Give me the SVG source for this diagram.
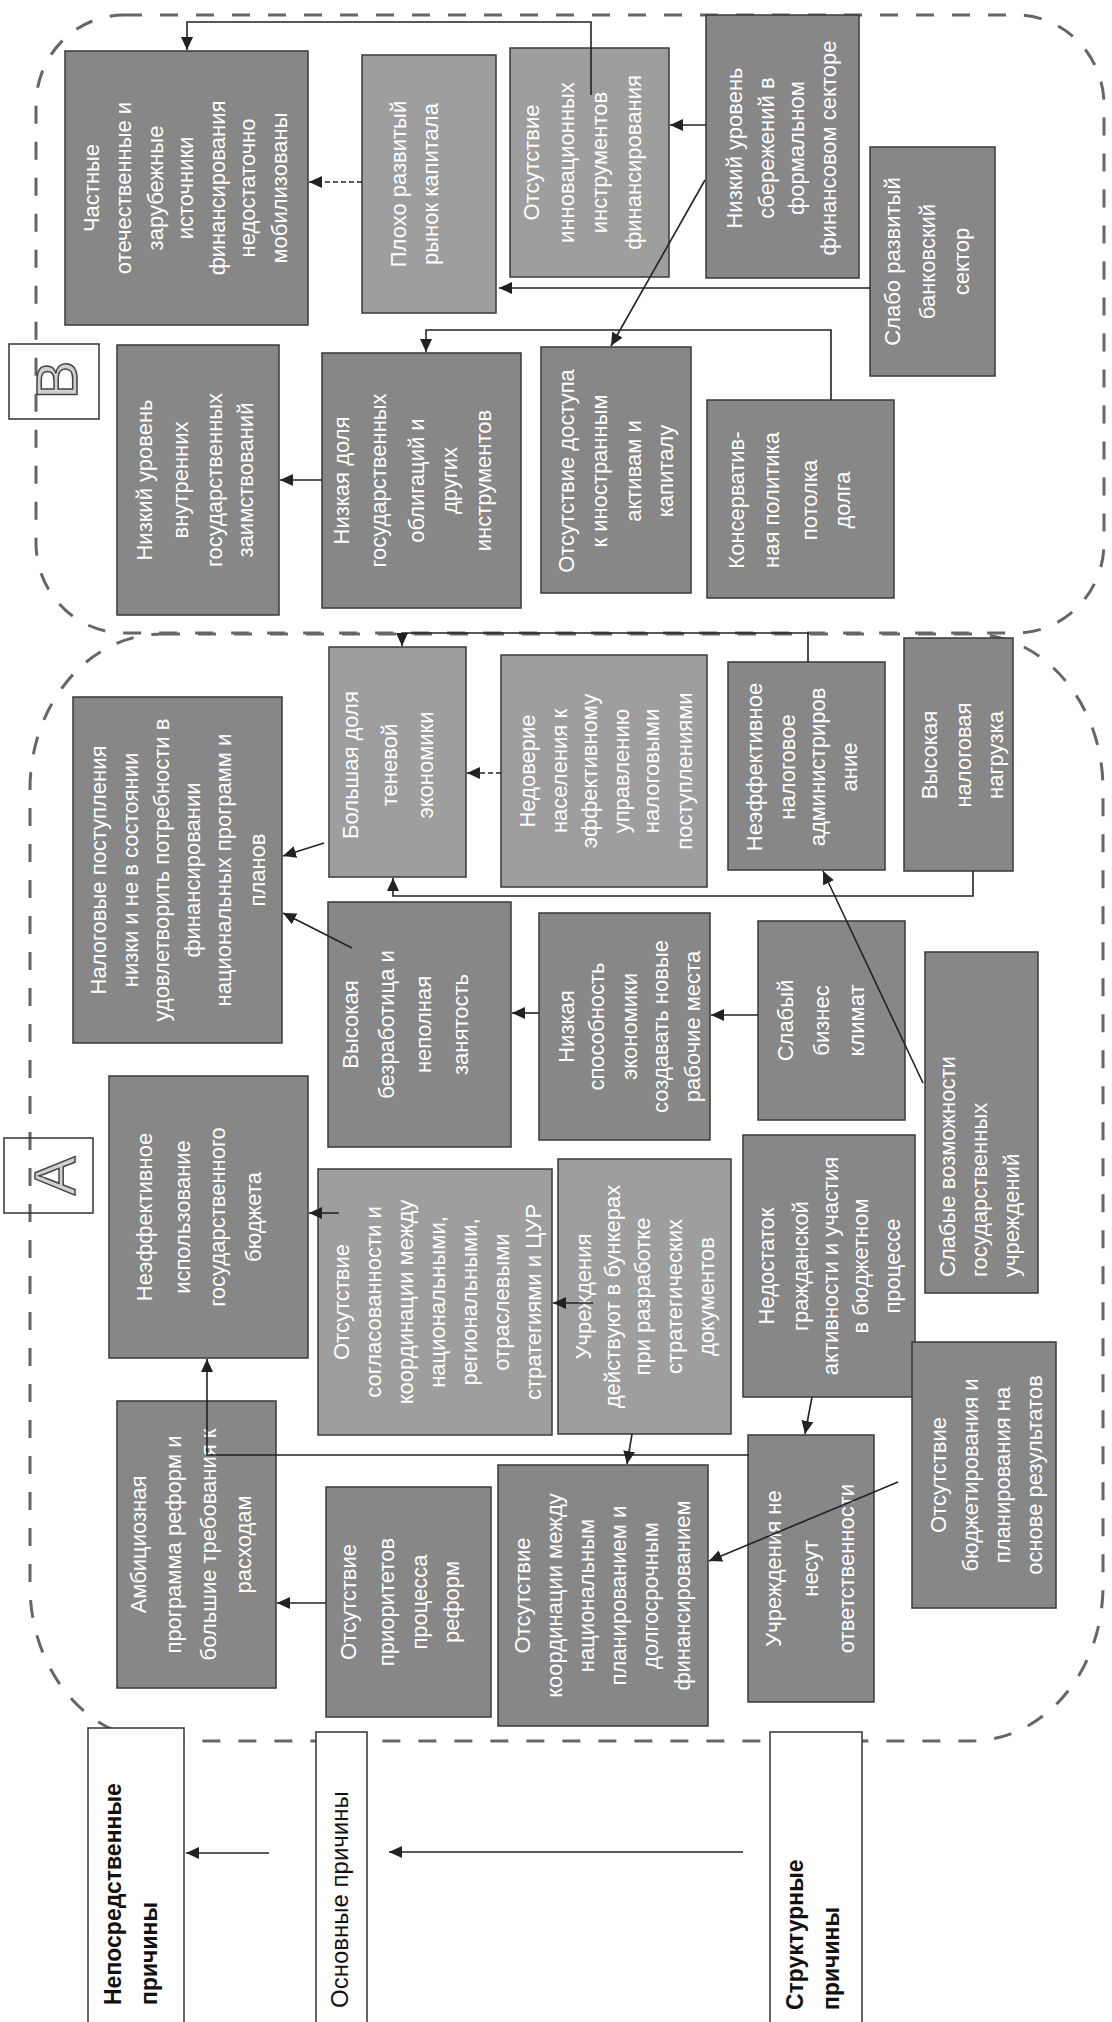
<svg xmlns="http://www.w3.org/2000/svg" width="1112" height="2022" viewBox="0 0 1112 2022">
<style>
.bg{fill:#ffffff}
.n rect{fill:#878787;stroke:#3a3a3a;stroke-width:1.5}
.n.lt rect{fill:#9e9e9e}
.n text{font-family:"Liberation Sans",Arial,sans-serif;font-size:22px;fill:#ffffff;text-anchor:middle}
.region{fill:none;stroke:#666666;stroke-width:3;stroke-dasharray:18 18}
.lbl rect{fill:#ffffff;stroke:#333333;stroke-width:1.5}
.lbl text{font-family:"Liberation Sans",Arial,sans-serif;font-size:23px;font-weight:bold;fill:#111111}
.lbl text.reg{font-weight:normal;font-size:24px}
.tag rect{fill:none;stroke:#333333;stroke-width:1.5}
.tag text{font-family:"Liberation Sans",Arial,sans-serif;font-size:58px;fill:#d0d0d0;stroke:#444444;stroke-width:1.5;text-anchor:middle}
.c path{fill:none;stroke:#222222;stroke-width:1.6;marker-end:url(#ah)}
.c path.d{stroke-dasharray:5 3}
</style>
<defs>
<marker id="ah" markerUnits="userSpaceOnUse" markerWidth="14" markerHeight="12" refX="13" refY="6" orient="auto">
<path d="M0,0 L13,6 L0,12 z" fill="#222222"/>
</marker>
</defs>
<rect class="bg" x="0" y="0" width="1112" height="2022"/>

<g id="regions">
<rect class="region" x="36" y="15" width="1068" height="618" rx="88" ry="90"/>
<rect class="region" x="30" y="634" width="1073" height="1107" rx="132" ry="155"/>
</g>

<g id="tagB" class="tag"><rect x="9" y="344" width="90" height="75"/><text transform="translate(0,2022) rotate(-90)" x="1642" y="77">B</text></g>
<g id="tagA" class="tag"><rect x="4" y="1138" width="89" height="75"/><text transform="translate(0,2022) rotate(-90)" x="846" y="75">A</text></g>

<g id="B1" class="n"><rect x="65" y="51" width="243" height="274"/><text transform="translate(0,2022) rotate(-90)"><tspan x="1834" y="99">Частные</tspan><tspan x="1834" y="131">отечественные и</tspan><tspan x="1834" y="163">зарубежные</tspan><tspan x="1834" y="193">источники</tspan><tspan x="1834" y="225">финансирования</tspan><tspan x="1834" y="255">недостаточно</tspan><tspan x="1834" y="287">мобилизованы</tspan></text></g>
<g id="B2" class="n lt"><rect x="362" y="55" width="134" height="258"/><text transform="translate(0,2022) rotate(-90)"><tspan x="1838" y="406">Плохо развитый</tspan><tspan x="1838" y="438">рынок капитала</tspan></text></g>
<g id="B3" class="n lt"><rect x="510" y="48" width="159" height="229"/><text transform="translate(0,2022) rotate(-90)"><tspan x="1859.5" y="539">Отсутствие</tspan><tspan x="1859.5" y="574">инновационных</tspan><tspan x="1859.5" y="607">инструментов</tspan><tspan x="1859.5" y="641">финансирования</tspan></text></g>
<g id="B4" class="n"><rect x="706" y="15" width="153" height="263"/><text transform="translate(0,2022) rotate(-90)"><tspan x="1874" y="742">Низкий уровень</tspan><tspan x="1874" y="774">сбережений в</tspan><tspan x="1874" y="804">формальном</tspan><tspan x="1874" y="836">финансовом секторе</tspan></text></g>
<g id="B5" class="n"><rect x="870" y="147" width="125" height="229"/><text transform="translate(0,2022) rotate(-90)"><tspan x="1760.5" y="900">Слабо развитый</tspan><tspan x="1760.5" y="935">банковский</tspan><tspan x="1760.5" y="969">сектор</tspan></text></g>
<g id="B6" class="n"><rect x="117" y="345" width="162" height="270"/><text transform="translate(0,2022) rotate(-90)"><tspan x="1542" y="152">Низкий уровень</tspan><tspan x="1542" y="188">внутренних</tspan><tspan x="1542" y="222">государственных</tspan><tspan x="1542" y="253">заимствований</tspan></text></g>
<g id="B7" class="n"><rect x="322" y="353" width="199" height="255"/><text transform="translate(0,2022) rotate(-90)"><tspan x="1541.5" y="349">Низкая доля</tspan><tspan x="1541.5" y="386">государственных</tspan><tspan x="1541.5" y="424">облигаций и</tspan><tspan x="1541.5" y="457">других</tspan><tspan x="1541.5" y="491">инструментов</tspan></text></g>
<g id="B8" class="n"><rect x="541" y="347" width="150" height="246"/><text transform="translate(0,2022) rotate(-90)"><tspan x="1551" y="574">Отсутствие доступа</tspan><tspan x="1551" y="607">к иностранным</tspan><tspan x="1551" y="641">активам и</tspan><tspan x="1551" y="673">капиталу</tspan></text></g>
<g id="B9" class="n"><rect x="707" y="400" width="187" height="198"/><text transform="translate(0,2022) rotate(-90)"><tspan x="1522" y="744">Консерватив-</tspan><tspan x="1522" y="779">ная политика</tspan><tspan x="1522" y="817">потолка</tspan><tspan x="1522" y="850">долга</tspan></text></g>

<g id="A1" class="n"><rect x="73" y="697" width="209" height="346"/><text transform="translate(0,2022) rotate(-90)"><tspan x="1152" y="106">Налоговые поступления</tspan><tspan x="1152" y="138">низки и не в состоянии</tspan><tspan x="1152" y="169">удовлетворить потребности в</tspan><tspan x="1152" y="200">финансировании</tspan><tspan x="1152" y="231">национальных программ и</tspan><tspan x="1152" y="265">планов</tspan></text></g>
<g id="A2" class="n lt"><rect x="329" y="647" width="137" height="230"/><text transform="translate(0,2022) rotate(-90)"><tspan x="1257" y="358">Большая доля</tspan><tspan x="1257" y="397">теневой</tspan><tspan x="1257" y="433">экономики</tspan></text></g>
<g id="A3" class="n lt"><rect x="501" y="655" width="206" height="232"/><text transform="translate(0,2022) rotate(-90)"><tspan x="1251" y="535">Недоверие</tspan><tspan x="1251" y="567">населения к</tspan><tspan x="1251" y="597">эффективному</tspan><tspan x="1251" y="629">управлению</tspan><tspan x="1251" y="659">налоговыми</tspan><tspan x="1251" y="692">поступлениями</tspan></text></g>
<g id="A4" class="n"><rect x="728" y="662" width="157" height="208"/><text transform="translate(0,2022) rotate(-90)"><tspan x="1255" y="762">Неэффективное</tspan><tspan x="1255" y="795">налоговое</tspan><tspan x="1255" y="825">администриров</tspan><tspan x="1255" y="857">ание</tspan></text></g>
<g id="A5" class="n"><rect x="904" y="638" width="109" height="233"/><text transform="translate(0,2022) rotate(-90)"><tspan x="1267" y="937">Высокая</tspan><tspan x="1267" y="971">налоговая</tspan><tspan x="1267" y="1003">нагрузка</tspan></text></g>
<g id="A6" class="n"><rect x="328" y="902" width="183" height="245"/><text transform="translate(0,2022) rotate(-90)"><tspan x="997.5" y="358">Высокая</tspan><tspan x="997.5" y="394">безработица и</tspan><tspan x="997.5" y="431">неполная</tspan><tspan x="997.5" y="468">занятость</tspan></text></g>
<g id="A7" class="n"><rect x="539" y="913" width="171" height="227"/><text transform="translate(0,2022) rotate(-90)"><tspan x="995.5" y="574">Низкая</tspan><tspan x="995.5" y="604">способность</tspan><tspan x="995.5" y="637">экономики</tspan><tspan x="995.5" y="668">создавать новые</tspan><tspan x="995.5" y="700">рабочие места</tspan></text></g>
<g id="A8" class="n"><rect x="758" y="921" width="147" height="199"/><text transform="translate(0,2022) rotate(-90)"><tspan x="1001.5" y="793">Слабый</tspan><tspan x="1001.5" y="829">бизнес</tspan><tspan x="1001.5" y="864">климат</tspan></text></g>
<g id="A9" class="n"><rect x="925" y="952" width="113" height="341"/><text transform="translate(0,2022) rotate(-90)" style="text-anchor:start"><tspan x="745" y="955">Слабые возможности</tspan><tspan x="745" y="987">государственных</tspan><tspan x="745" y="1019">учреждений</tspan></text></g>
<g id="A10" class="n"><rect x="109" y="1076" width="199" height="282"/><text transform="translate(0,2022) rotate(-90)"><tspan x="805" y="152">Неэффективное</tspan><tspan x="805" y="190">использование</tspan><tspan x="805" y="225">государственного</tspan><tspan x="805" y="261">бюджета</tspan></text></g>
<g id="A11" class="n lt"><rect x="318" y="1169" width="234" height="266"/><text transform="translate(0,2022) rotate(-90)"><tspan x="720" y="349">Отсутствие</tspan><tspan x="720" y="381">согласованности и</tspan><tspan x="720" y="413">координации между</tspan><tspan x="720" y="445">национальными,</tspan><tspan x="720" y="477">региональными,</tspan><tspan x="720" y="509">отраслевыми</tspan><tspan x="720" y="541">стратегиями и ЦУР</tspan></text></g>
<g id="A12" class="n lt"><rect x="558" y="1159" width="173" height="275"/><text transform="translate(0,2022) rotate(-90)"><tspan x="725.5" y="591">Учреждения</tspan><tspan x="725.5" y="620">действуют в бункерах</tspan><tspan x="725.5" y="650">при разработке</tspan><tspan x="725.5" y="682">стратегических</tspan><tspan x="725.5" y="714">документов</tspan></text></g>
<g id="A13" class="n"><rect x="743" y="1135" width="172" height="262"/><text transform="translate(0,2022) rotate(-90)"><tspan x="756" y="774">Недостаток</tspan><tspan x="756" y="808">гражданской</tspan><tspan x="756" y="838">активности и участия</tspan><tspan x="756" y="868">в бюджетном</tspan><tspan x="756" y="900">процессе</tspan></text></g>
<g id="A14" class="n"><rect x="912" y="1342" width="144" height="266"/><text transform="translate(0,2022) rotate(-90)"><tspan x="547" y="946">Отсутствие</tspan><tspan x="547" y="978">бюджетирования и</tspan><tspan x="547" y="1010">планирования на</tspan><tspan x="547" y="1042">основе результатов</tspan></text></g>
<g id="A15" class="n"><rect x="117" y="1401" width="159" height="287"/><text transform="translate(0,2022) rotate(-90)"><tspan x="477.5" y="146">Амбициозная</tspan><tspan x="477.5" y="181">программа реформ и</tspan><tspan x="477.5" y="216">большие требования к</tspan><tspan x="477.5" y="251">расходам</tspan></text></g>
<g id="A16" class="n"><rect x="748" y="1435" width="126" height="267"/><text transform="translate(0,2022) rotate(-90)"><tspan x="453.5" y="781">Учреждения не</tspan><tspan x="453.5" y="818">несут</tspan><tspan x="453.5" y="854">ответственности</tspan></text></g>
<g id="A17" class="n"><rect x="498" y="1465" width="210" height="261"/><text transform="translate(0,2022) rotate(-90)"><tspan x="426.5" y="530">Отсутствие</tspan><tspan x="426.5" y="562">координации между</tspan><tspan x="426.5" y="594">национальным</tspan><tspan x="426.5" y="626">планированием и</tspan><tspan x="426.5" y="658">долгосрочным</tspan><tspan x="426.5" y="690">финансированием</tspan></text></g>
<g id="A18" class="n"><rect x="326" y="1487" width="165" height="230"/><text transform="translate(0,2022) rotate(-90)"><tspan x="420" y="356">Отсутствие</tspan><tspan x="420" y="394">приоритетов</tspan><tspan x="420" y="427">процесса</tspan><tspan x="420" y="459">реформ</tspan></text></g>

<g id="L1" class="lbl"><rect x="88" y="1728" width="96" height="300"/><text transform="translate(0,2022) rotate(-90)"><tspan x="17" y="121">Непосредственные</tspan><tspan x="17" y="157">причины</tspan></text></g>
<g id="L2" class="lbl"><rect x="316" y="1732" width="51" height="296"/><text class="reg" transform="translate(0,2022) rotate(-90)"><tspan x="14" y="348">Основные причины</tspan></text></g>
<g id="L3" class="lbl"><rect x="770" y="1732" width="92" height="296"/><text transform="translate(0,2022) rotate(-90)"><tspan x="12" y="803">Структурные</tspan><tspan x="12" y="839">причины</tspan></text></g>

<g id="connectors" class="c">
<path d="M591,95 V22 H187 V50"/>
<path class="d" d="M362,182 H309"/>
<path d="M706,125 H670"/>
<path d="M870,288 H499"/>
<path d="M705,180 L611,346"/>
<path d="M831,400 V330 H426 V352"/>
<path d="M322,480 H280"/>
<path d="M808,662 V633 H402 V646"/>
<path d="M973,871 V896 H393 V878"/>
<path class="d" d="M501,773 H467"/>
<path d="M324,843 L283,856"/>
<path d="M352,948 L283,913"/>
<path d="M539,1013 H512"/>
<path d="M758,1015 H711"/>
<path d="M923,1083 L823,871"/>
<path d="M339,1213 H309"/>
<path d="M593,1303 H553"/>
<path d="M749,1455 H207 V1359"/>
<path d="M632,1434 L627,1464"/>
<path d="M812,1397 L805,1434"/>
<path d="M898,1482 L709,1561"/>
<path d="M326,1603 H277"/>
<path d="M269,1853 H186"/>
<path d="M743,1852 H389"/>
</g>
</svg>
